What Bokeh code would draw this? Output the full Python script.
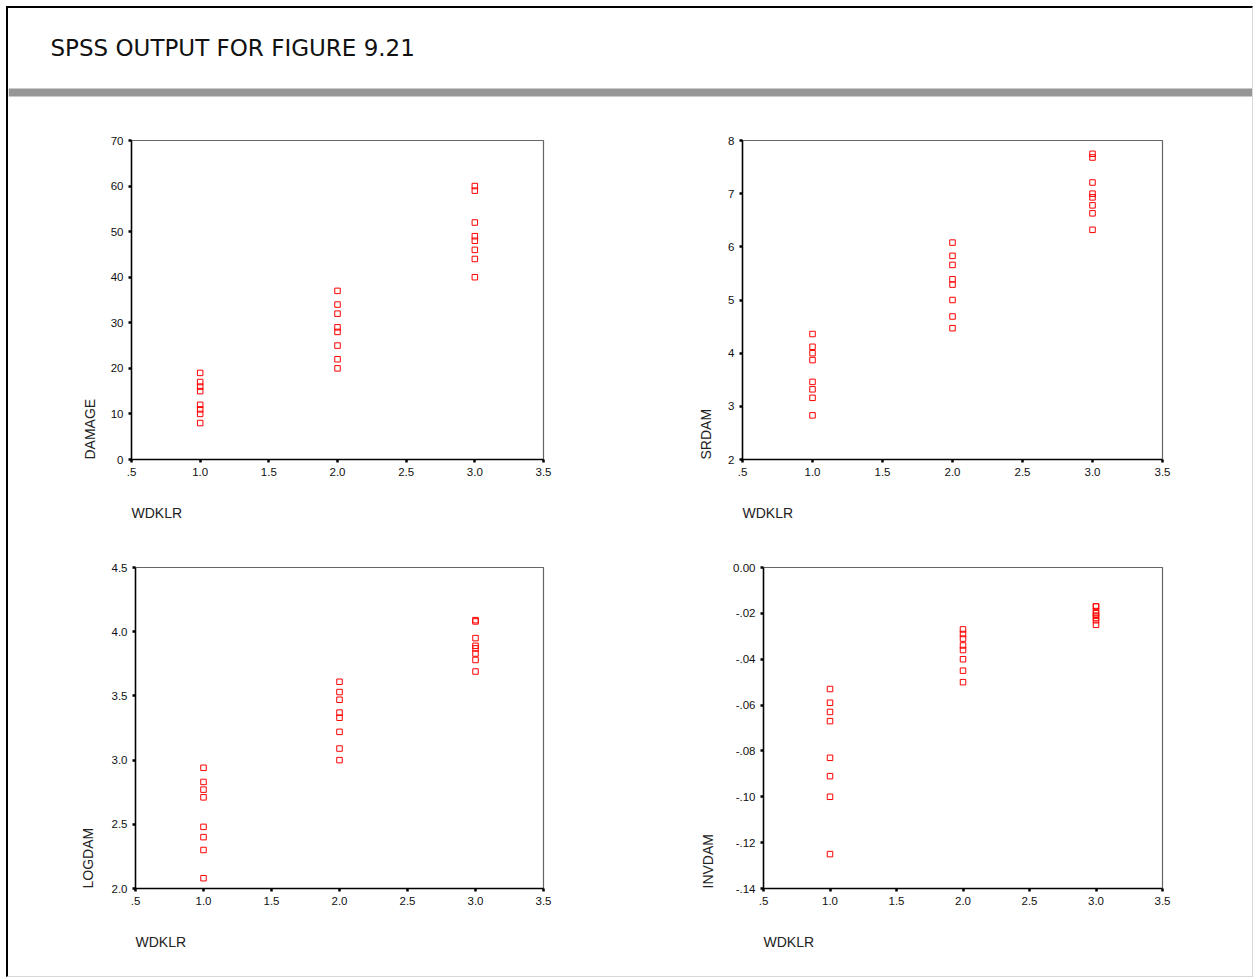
from bokeh.plotting import figure
from bokeh.models import Range1d, FixedTicker, Label, BoxAnnotation, Title
from bokeh.layouts import column, row
from bokeh.embed import file_html
from bokeh.resources import INLINE

# ---- data ----
wdklr = [1, 1, 1, 1, 1, 1, 1, 1,
         2, 2, 2, 2, 2, 2, 2, 2,
         3, 3, 3, 3, 3, 3, 3, 3]
damage = [19, 17, 16, 15, 12, 11, 10, 8,
          37, 34, 32, 29, 28, 25, 22, 20,
          60, 59, 52, 49, 48, 46, 44, 40]
srdam = [4.36, 4.12, 4.00, 3.87, 3.46, 3.32, 3.16, 2.83,
         6.08, 5.83, 5.66, 5.39, 5.29, 5.00, 4.69, 4.47,
         7.75, 7.68, 7.21, 7.00, 6.93, 6.78, 6.63, 6.32]
logdam = [2.94, 2.83, 2.77, 2.71, 2.48, 2.40, 2.30, 2.08,
          3.61, 3.53, 3.47, 3.37, 3.33, 3.22, 3.09, 3.00,
          4.09, 4.08, 3.95, 3.89, 3.87, 3.83, 3.78, 3.69]
invdam = [-0.053, -0.059, -0.063, -0.067, -0.083, -0.091, -0.100, -0.125,
          -0.027, -0.029, -0.031, -0.034, -0.036, -0.040, -0.045, -0.050,
          -0.017, -0.017, -0.019, -0.020, -0.021, -0.022, -0.023, -0.025]

x_ticks = [0.5, 1.0, 1.5, 2.0, 2.5, 3.0, 3.5]
x_tick_labels = [".5", "1.0", "1.5", "2.0", "2.5", "3.0", "3.5"]
damage_ticks = [0, 10, 20, 30, 40, 50, 60, 70]
damage_tick_labels = ["0", "10", "20", "30", "40", "50", "60", "70"]
srdam_ticks = [2, 3, 4, 5, 6, 7, 8]
srdam_tick_labels = ["2", "3", "4", "5", "6", "7", "8"]
logdam_ticks = [2.0, 2.5, 3.0, 3.5, 4.0, 4.5]
logdam_tick_labels = ["2.0", "2.5", "3.0", "3.5", "4.0", "4.5"]
invdam_ticks = [-0.14, -0.12, -0.10, -0.08, -0.06, -0.04, -0.02, 0.0]
invdam_tick_labels = ["-.14", "-.12", "-.10", "-.08", "-.06", "-.04", "-.02", "0.00"]

title_text = "SPSS OUTPUT FOR FIGURE 9.21"
x_label = "WDKLR"

TICK_FONT = "Liberation Sans"


def make_plot(yvals, ylo, yhi, yticks, ylabels, ylabel, w, bl, fw, bt, fh, bb, ystand):
    p = figure(width=w, height=bt + fh + bb,
               x_range=Range1d(0.5, 3.5), y_range=Range1d(ylo, yhi),
               min_border_left=bl, min_border_right=w - bl - fw,
               min_border_top=bt, min_border_bottom=bb,
               toolbar_location=None, output_backend="svg",
               background_fill_color="white", border_fill_color="white")
    p.grid.visible = False
    p.outline_line_color = "#666666"
    p.outline_line_width = 1.2
    p.scatter(wdklr, yvals, marker="square", size=5.5, fill_color=None,
              line_color="#ff0000", line_width=1)

    p.xaxis.ticker = FixedTicker(ticks=x_ticks, minor_ticks=[])
    p.xaxis.major_label_overrides = dict(zip(x_ticks, x_tick_labels))
    p.yaxis.ticker = FixedTicker(ticks=yticks, minor_ticks=[])
    p.yaxis.major_label_overrides = dict(zip(yticks, ylabels))
    for ax in (p.xaxis[0], p.yaxis[0]):
        ax.axis_line_color = "black"
        ax.axis_line_width = 1.5
        ax.major_tick_line_color = "black"
        ax.major_tick_line_width = 2.5
        ax.major_tick_out = 3
        ax.major_tick_in = 0
        ax.minor_tick_line_color = None
        ax.major_label_text_font = TICK_FONT
        ax.major_label_text_font_size = "11.5px"
        ax.major_label_text_color = "#111111"
        ax.major_label_standoff = 5

    # axis titles, aligned to the start of each axis as in SPSS output
    p.add_layout(Title(text=ylabel, align="left", text_font=TICK_FONT,
                       text_font_size="14px", text_font_style="normal",
                       text_color="#222222", standoff=ystand), "left")
    p.add_layout(Title(text=x_label, align="left", text_font=TICK_FONT,
                       text_font_size="14px", text_font_style="normal",
                       text_color="#222222", standoff=48), "below")
    return p


# header with title and grey bar
header = figure(width=1244, height=110, x_range=Range1d(0, 1244), y_range=Range1d(110, 0),
                min_border=0, toolbar_location=None, output_backend="svg",
                x_axis_type=None, y_axis_type=None,
                background_fill_color="white", border_fill_color="white")
header.grid.visible = False
header.outline_line_color = None
header.add_layout(Label(x=42, y=39, text=title_text, text_baseline="middle",
                        text_font="DejaVu Sans", text_font_size="23px",
                        text_color="#111111"))
header.add_layout(BoxAnnotation(top=80, bottom=88, fill_color="#969696", fill_alpha=1.0,
                                line_color=None))

p1 = make_plot(damage, 0, 70, damage_ticks, damage_tick_labels, "DAMAGE",
               622, 123, 412, 22, 319, 86, 20)
p2 = make_plot(srdam, 2, 8, srdam_ticks, srdam_tick_labels, "SRDAM",
               622, 112, 420, 22, 319, 86, 24)
p3 = make_plot(logdam, 2.0, 4.5, logdam_ticks, logdam_tick_labels, "LOGDAM",
               622, 127, 408, 22, 321, 88, 26)
p4 = make_plot(invdam, -0.14, 0.0, invdam_ticks, invdam_tick_labels, "INVDAM",
               622, 133, 399, 22, 321, 88, 30)

layout = column(header, row(p1, p2), row(p3, p4),
                styles={"margin-top": "6px", "margin-left": "6px",
                        "border-top": "2px solid #000000",
                        "border-left": "2px solid #000000",
                        "border-right": "1px solid #d8d8d8",
                        "border-bottom": "1px solid #d8d8d8"})

open("out.html", "w").write(file_html(layout, INLINE))
